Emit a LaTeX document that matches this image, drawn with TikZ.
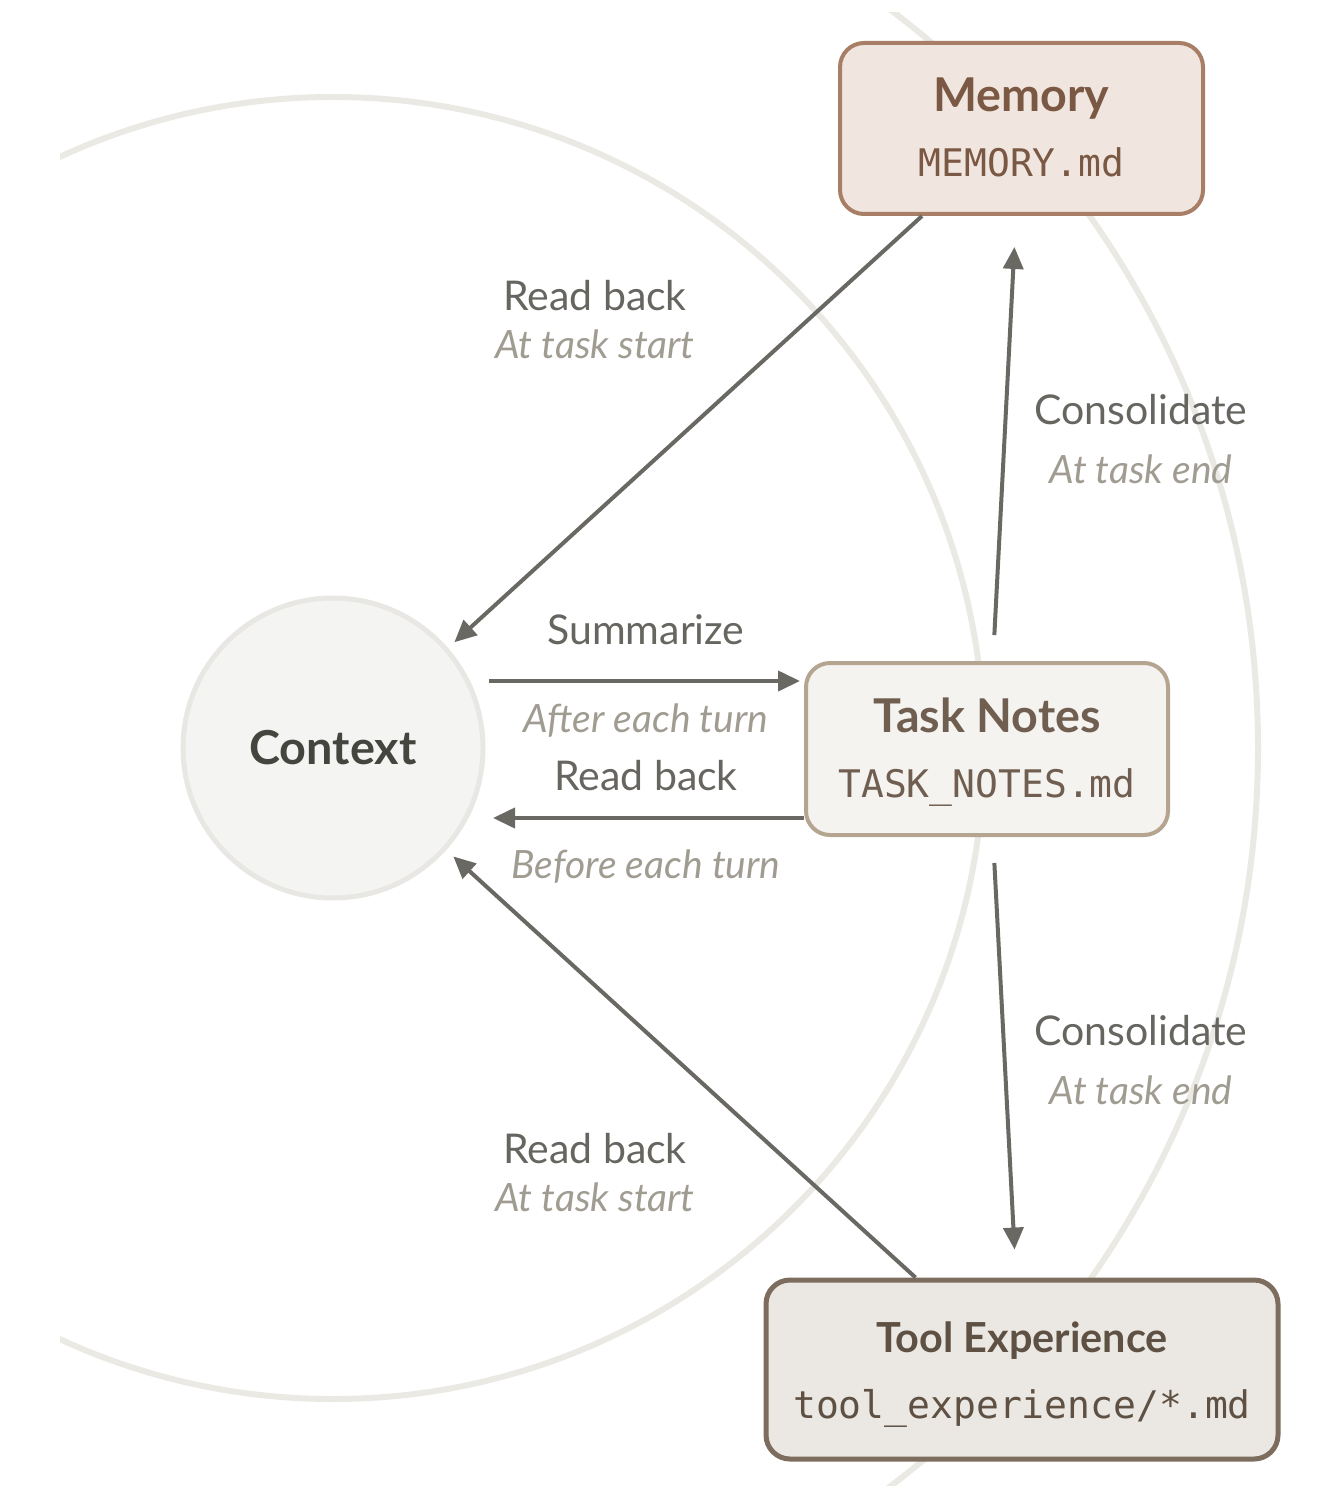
\documentclass[tikz,border=0pt]{standalone}
\usepackage{fontspec}
\setmainfont{Lato}
\setmonofont{DejaVu Sans Mono}
\usetikzlibrary{arrows.meta,positioning}
\definecolor{ringgray}{HTML}{EAE9E4}
\definecolor{ctxfill}{HTML}{F4F4F2}
\definecolor{ctxline}{HTML}{E8E7E3}
\definecolor{ctxtext}{HTML}{45453F}
\definecolor{memfill}{HTML}{F0E6DF}
\definecolor{memline}{HTML}{A87F66}
\definecolor{memtext}{HTML}{7A5843}
\definecolor{notefill}{HTML}{F4F3F0}
\definecolor{noteline}{HTML}{B5A590}
\definecolor{notetext}{HTML}{705F50}
\definecolor{toolfill}{HTML}{EBE7E2}
\definecolor{toolline}{HTML}{7D6D5E}
\definecolor{tooltext}{HTML}{5E5144}
\definecolor{arrowgray}{HTML}{6A6862}
\definecolor{labeldark}{HTML}{666560}
\definecolor{labelsoft}{HTML}{A09C92}

\begin{document}
\begin{tikzpicture}[x=0.5pt, y=-0.5pt,
  store/.style={draw, line width=2pt, rounded corners=12pt},
  flow/.style={draw=arrowgray, line width=2pt, -{Triangle[length=11pt,width=10pt]}},
  what/.style={anchor=base, font=\fontsize{20.5}{24}\selectfont, text=labeldark},
  when/.style={anchor=base, font=\fontsize{19.5}{23}\selectfont\itshape, text=labelsoft},
  title/.style={anchor=base, font=\fontsize{23.3}{28}\selectfont\bfseries},
  fname/.style={anchor=base, font=\fontsize{19}{23}\selectfont\ttfamily}]
  \useasboundingbox (0,0) rectangle (1334,1508);
  \coordinate (hub) at (333,748);

  % rings behind everything
  \begin{scope}
    \clip (60,13) rectangle (1334,1485);
    \draw[ringgray, line width=3pt] (hub) circle[radius=651];
    \draw[ringgray, line width=3pt] (hub) circle[radius=925];
  \end{scope}

  \node[circle, draw=ctxline, fill=ctxfill, line width=2.5pt, minimum size=150pt, inner sep=0pt,
    text=ctxtext, font=\fontsize{23.4}{28}\selectfont\bfseries] (ctx) at (hub) {Context};

  \node[store, draw=memline, fill=memfill, minimum width=181.5pt, minimum height=85.5pt] (memory) at (1021.5,128.5) {};
  \node[title, text=memtext] (memtitle) at ([yshift=8.25pt]memory.center) {Memory};
  \node[fname, text=memtext] (memfile) at ([yshift=-24.25pt]memory.center) {MEMORY.md};

  \node[store, draw=noteline, fill=notefill, minimum width=181pt, minimum height=86pt] (notes) at (987,749) {};
  \node[title, text=notetext] (notetitle) at ([yshift=8.5pt]notes.center) {Task Notes};
  \node[fname, text=notetext] (notefile) at ([yshift=-24pt]notes.center) {TASK\_NOTES.md};

  \node[store, draw=toolline, fill=toolfill, line width=2.5pt, minimum width=256pt, minimum height=89.5pt] (tools) at (1022,1369.5) {};
  \node[title, text=tooltext, font=\fontsize{20.7}{25}\selectfont\bfseries] (tooltitle) at ([yshift=8.75pt]tools.center) {Tool Experience};
  \node[fname, text=tooltext] (toolfile) at ([yshift=-24.25pt]tools.center) {tool\_experience/*.md};

  % connectors
  \draw[flow, shorten >=4.25pt] ([xshift=42pt]memory.south west) -- (ctx.41.7);
  \draw[flow, shorten >=4.75pt] ([xshift=76pt]tools.north west) -- (ctx.-42.2);
  \draw[flow, shorten >=2pt] ([xshift=1.75pt,yshift=33.5pt]ctx.east) -- ([yshift=34pt]notes.west);
  \draw[flow] ([yshift=-34.5pt]notes.west) -- ([xshift=3.75pt,yshift=-35pt]ctx.east);
  \draw[flow, shorten <=13pt, shorten >=15.5pt] ([xshift=3pt]notes.north) -- ([xshift=-2.75pt]memory.south);
  \draw[flow, shorten <=13pt, shorten >=14pt] ([xshift=3pt]notes.south) -- ([xshift=-3pt]tools.north);

  % labels
  \node[what] (rbtop) at (595,310.5) {Read back};
  \node[when] (rbtopwhen) at (595,358.5) {At task start};
  \node[what] (contop) at (1141,424.5) {Consolidate};
  \node[when] (contopwhen) at (1141,483.5) {At task end};
  \node[what] (summ) at (646,644.5) {Summarize};
  \node[when] (summwhen) at (646,732.5) {After each turn};
  \node[what] (rbmid) at (646,790.5) {Read back};
  \node[when] (rbmidwhen) at (646,878.5) {Before each turn};
  \node[what] (conbot) at (1141,1045.5) {Consolidate};
  \node[when] (conbotwhen) at (1141,1104.5) {At task end};
  \node[what] (rbbot) at (595,1163.5) {Read back};
  \node[when] (rbbotwhen) at (595,1211.5) {At task start};
\end{tikzpicture}
\end{document}
